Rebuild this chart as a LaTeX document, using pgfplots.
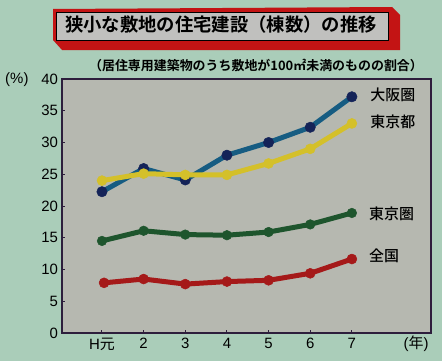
\documentclass[border=0pt]{standalone}
\usepackage{pgfplots}
\pgfplotsset{compat=1.18}
\usepackage{fontspec}
\setmainfont{Liberation Sans}
\newfontfamily\cjk{Noto Sans CJK JP}
\newfontfamily\cjkm{Noto Sans CJK JP Medium}
\newfontfamily\cjkb{Noto Sans CJK JP Bold}
\definecolor{bgcol}{RGB}{170,205,185}
\definecolor{plotbg}{RGB}{182,184,176}
\definecolor{blueline}{RGB}{22,92,130}
\definecolor{bluemark}{RGB}{20,35,88}
\definecolor{yel}{RGB}{212,192,42}
\definecolor{grn}{RGB}{30,85,45}
\definecolor{redl}{RGB}{165,25,25}
\definecolor{titlered}{RGB}{195,20,20}
\definecolor{titlegray}{RGB}{192,192,190}
\definecolor{axcol}{RGB}{45,30,60}
\begin{document}
\begin{tikzpicture}[x=1bp,y=1bp]
\fill[bgcol] (0,0) rectangle (442,361);
\path[use as bounding box] (0,0) rectangle (442,361);
% title
\fill[titlered] (53,352) -- (392,354) -- (400,346) -- (400,311) -- (62,311) -- (53,321) -- cycle;
\filldraw[fill=titlegray, draw=black, line width=0.8bp] (56,349) rectangle (388,321);
\node[font=\cjkb\fontsize{18.4}{21}\selectfont, text=black] at (221,336) {狭小な敷地の住宅建設（棟数）の推移};
\node[font=\cjkb\fontsize{13}{15}\selectfont, text=black] at (256,296) {（居住専用建築物のうち敷地が100㎡未満のものの割合）};
\begin{axis}[
  at={(62bp,28bp)}, anchor=south west,
  scale only axis, width=369bp, height=254bp,
  xmin=0.04, xmax=8.9, ymin=0, ymax=40,
  axis background/.style={fill=plotbg},
  axis line style={draw=axcol, line width=1.3bp},
  xtick={1,2,3,4,5,6,7},
  xticklabels={H{\cjk 元},2,3,4,5,6,7},
  ytick={0,5,10,15,20,25,30,35,40},
  xtick pos=bottom, ytick pos=left,
  tick align=inside, major tick length=3bp,
  tick style={draw=axcol, line width=1bp},
  ticklabel style={font=\fontsize{15}{17}\selectfont, text=black},
  /pgf/number format/assume math mode=true,
  yticklabel style={xshift=-0.5bp},
  xticklabel style={yshift=-2bp},
  clip=false,
]
\addplot[color=blueline, line width=5bp, mark=*, mark size=5.2bp, mark options={fill=bluemark, draw=bluemark, line width=0.5bp}]
  coordinates {(1,22.25) (2,25.9) (3,24.1) (4,28.0) (5,30.0) (6,32.4) (7,37.2)};
\addplot[color=yel, line width=5bp, mark=*, mark size=5bp, mark options={fill=yel, draw=yel, line width=0.5bp}]
  coordinates {(1,24.0) (2,25.1) (3,24.9) (4,24.9) (5,26.7) (6,29.0) (7,33.0)};
\addplot[color=grn, line width=5bp, mark=*, mark size=4.8bp, mark options={fill=grn, draw=grn, line width=0.5bp}]
  coordinates {(1,14.5) (2,16.1) (3,15.5) (4,15.4) (5,15.9) (6,17.1) (7,18.9)};
\addplot[color=redl, line width=5bp, mark=*, mark size=5bp, mark options={fill=redl, draw=redl, line width=0.5bp}]
  coordinates {(1.05,7.9) (2,8.5) (3,7.7) (4,8.1) (5,8.3) (6,9.4) (7,11.65)};
\node[anchor=west, font=\cjkm\fontsize{15}{17}\selectfont] at (axis cs:7.36,37.5) {大阪圏};
\node[anchor=west, font=\cjkm\fontsize{15}{17}\selectfont] at (axis cs:7.36,33.2) {東京都};
\node[anchor=west, font=\cjkm\fontsize{15}{17}\selectfont] at (axis cs:7.33,18.7) {東京圏};
\node[anchor=west, font=\cjkm\fontsize{15}{17}\selectfont] at (axis cs:7.33,12.1) {全国};
\end{axis}
\node[anchor=east, font=\fontsize{15}{17}\selectfont] at (32,281) {(\%)};
\node[anchor=east, font=\fontsize{15}{17}\selectfont] at (432,17) {({\cjk 年})};
\end{tikzpicture}
\end{document}
